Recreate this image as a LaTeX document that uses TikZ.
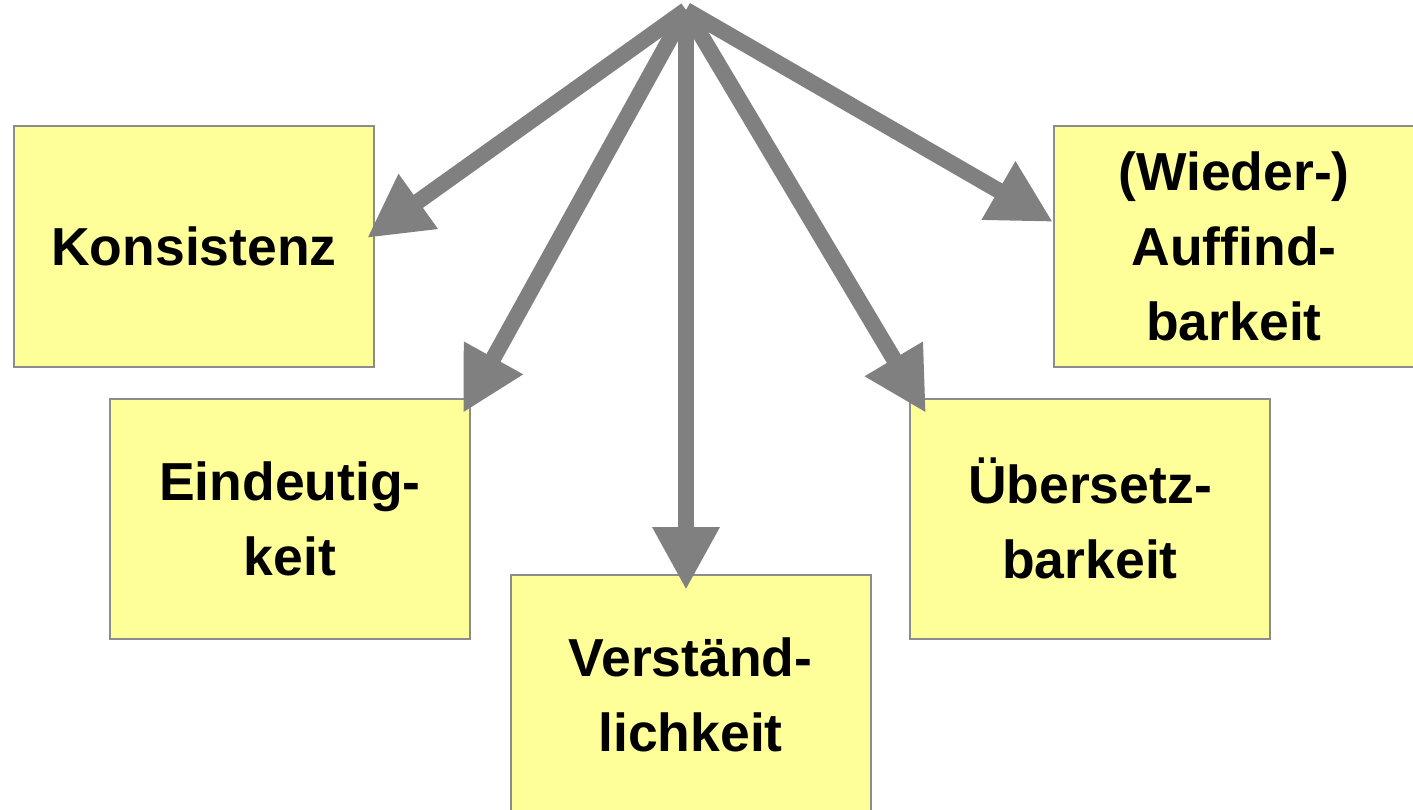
\documentclass[tikz,border=0pt]{standalone}
\usepackage{fontspec}
\setmainfont{Liberation Sans}
\usetikzlibrary{arrows.meta}
\definecolor{boxfill}{HTML}{FFFF99}
\definecolor{arrowgray}{HTML}{808080}
\definecolor{boxline}{HTML}{8C8C8C}
\begin{document}
\begin{tikzpicture}[x=1pt,y=-1pt,
  box/.style={draw=boxline,line width=2pt,fill=boxfill,minimum width=360pt,minimum height=240pt,
    align=center,inner sep=0pt,font=\fontsize{53.5}{75}\selectfont\bfseries},
  bigarrow/.style={draw=arrowgray,line width=16pt,-{Triangle[length=63pt,width=63pt]}}]
\useasboundingbox (0,0) rectangle (1413,810);
\node[box] (kon) at (194,246.5) {Konsistenz};
\node[box] (ein) at (290,518.5) {Eindeutig-\\keit};
\node[box] (ver) at (690.5,695) {Verständ-\\lichkeit};
\node[box] (ueb) at (1090,518.5) {Übersetz-\\barkeit};
\node[box] (auf) at (1234,246.5) {(Wieder-)\\Auffind-\\barkeit};
\coordinate (top) at (686,10);
\coordinate (tkon) at (367,238);
\coordinate (tein) at (463,413);
\coordinate (tver) at (686,590);
\coordinate (tueb) at (926,413);
\coordinate (tauf) at (1053,222);
\draw[bigarrow] (top) -- (tkon);
\draw[bigarrow] (top) -- (tein);
\draw[bigarrow] (top) -- (tver);
\draw[bigarrow] (top) -- (tueb);
\draw[bigarrow] (top) -- (tauf);
\end{tikzpicture}
\end{document}
